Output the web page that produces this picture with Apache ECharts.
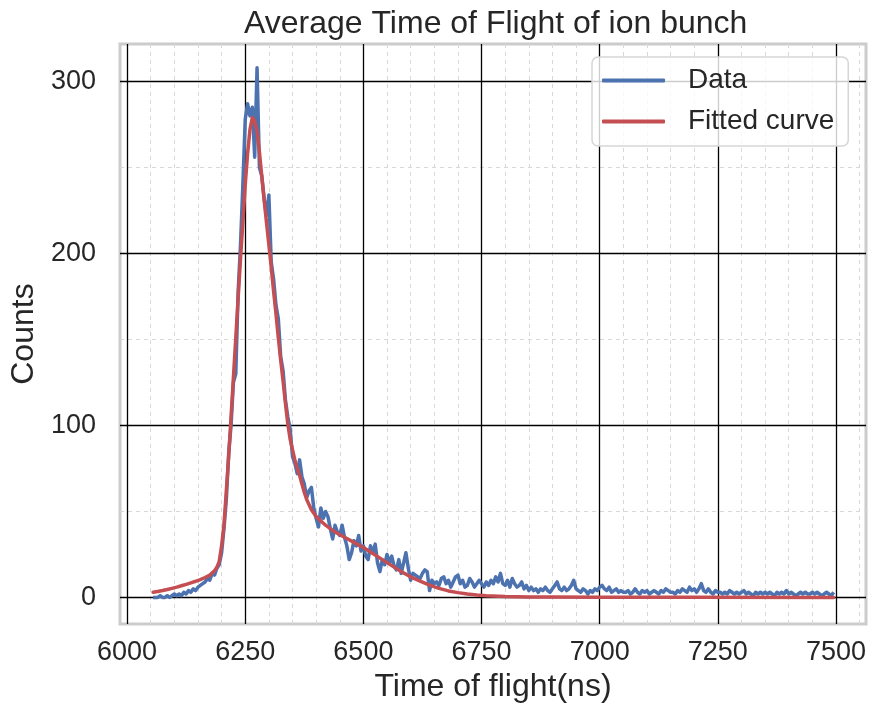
<!DOCTYPE html>
<html>
<head>
<meta charset="utf-8">
<title>Average Time of Flight of ion bunch</title>
<script src="https://cdn.jsdelivr.net/npm/echarts@6/dist/echarts.min.js"></script>
<style>
  html, body { margin: 0; padding: 0; background: #fff; }
  #main { width: 873px; height: 708px; }
</style>
</head>
<body>
<div id="main"></div>
<script>
// measured counts, 5 ns bins starting at 6055 ns
var binStart = 6055
var binWidth = 5
var counts = [
  0, 0, 0, 1, 0, 0, 1, 0, 1, 2, 1, 2, 1, 3, 2, 4, 3, 5, 4, 6,
  7, 8, 9, 11, 10, 14, 13, 17, 19, 26, 40, 57, 84, 100, 125, 130, 178, 205, 240, 278,
  287, 280, 285, 256, 308, 250, 245, 232, 222, 234, 195, 185, 170, 162, 140, 132, 115, 105, 98, 82,
  78, 72, 80, 70, 66, 58, 62, 64, 52, 46, 41, 52, 46, 50, 47, 40, 34, 42, 38, 36,
  42, 35, 30, 22, 26, 33, 30, 36, 27, 30, 24, 22, 30, 26, 31, 20, 15, 22, 19, 25,
  20, 24, 18, 16, 22, 14, 20, 26, 17, 10, 14, 13, 12, 11, 14, 16, 15, 4, 10, 8,
  9, 7, 11, 12, 8, 10, 6, 9, 12, 13, 8, 10, 6, 7, 11, 9, 6, 8, 10, 8,
  6, 9, 7, 10, 8, 12, 9, 14, 8, 7, 10, 6, 11, 8, 6, 7, 9, 5, 7, 4,
  6, 4, 5, 3, 5, 4, 6, 4, 3, 5, 7, 9, 5, 4, 6, 4, 5, 7, 10, 5,
  4, 3, 5, 4, 2, 4, 3, 5, 4, 6, 7, 5, 4, 6, 3, 4, 5, 3, 4, 3,
  3, 4, 2, 3, 5, 3, 2, 4, 3, 4, 2, 3, 4, 3, 2, 4, 3, 5, 4, 3,
  3, 2, 4, 3, 5, 4, 3, 6, 4, 5, 3, 5, 8, 4, 3, 5, 3, 2, 4, 3,
  3, 2, 3, 2, 4, 3, 2, 3, 2, 3, 4, 2, 3, 2, 1, 3, 2, 3, 2, 3,
  2, 3, 2, 1, 3, 2, 3, 2, 4, 2, 3, 2, 1, 2, 3, 2, 3, 2, 2, 3,
  2, 3, 2, 1, 2, 3, 2, 1, 3
]

// fitted curve
var fitX = [
  6055, 6065, 6075, 6085, 6095, 6105, 6115, 6125, 6135, 6145, 6155, 6165, 6175, 6185,
  6190, 6195, 6200, 6205, 6210, 6215, 6220, 6225, 6230, 6235, 6240, 6245, 6250, 6255,
  6260, 6265, 6270, 6275, 6280, 6285, 6290, 6295, 6300, 6305, 6310, 6315, 6320, 6325,
  6330, 6335, 6340, 6345, 6350, 6355, 6360, 6365, 6370, 6375, 6380,
  6390, 6400,
  6420, 6440, 6460, 6480, 6500, 6520, 6540, 6560, 6580, 6600, 6620, 6640, 6660, 6680,
  6700, 6720, 6740, 6760,
  6800, 6850, 6900, 7000, 7200, 7495
]
var fitY = [
  3, 3.5, 4, 4.6, 5.3, 6, 6.8, 7.6, 8.5, 9.4, 10.4, 11.6, 13, 15.5,
  17.5, 21, 30, 42, 62, 82, 105, 128, 151, 174, 197, 218, 240, 258,
  272, 279, 277, 271, 259, 245, 231, 218, 205, 192, 178, 165, 151, 138,
  126, 113, 101, 92, 86, 80, 75, 71, 66, 61, 57,
  51, 47,
  42, 38, 35, 32, 29, 25.5, 22, 18.5, 15, 12, 9.5, 7.2, 5.3, 3.8,
  2.8, 2, 1.4, 1,
  0.5, 0.3, 0.2, 0.1, 0.05, 0
]

var xMajor = [6000, 6250, 6500, 6750, 7000, 7250, 7500]
var xMinor = [6050, 6100, 6150, 6200, 6300, 6350, 6400, 6450, 6550, 6600, 6650, 6700,
  6800, 6850, 6900, 6950, 7050, 7100, 7150, 7200, 7300, 7350, 7400, 7450, 7550]
var yMajor = [0, 100, 200, 300]
var yMinor = [50, 150, 250]

var xRange = [5985, 7563.5]
var yRange = [-15.5, 321.8]

var dataPairs = counts.map(function (c, i) {
  return [binStart + i * binWidth, c]
})
var fitPairs = fitX.map(function (x, i) {
  return [x, fitY[i]]
})

var txt = '#262626'
var fontFam = '"Liberation Sans", Arial, sans-serif'

var myChart = echarts.init(document.getElementById('main'))

var option = {
  animation: false,
  backgroundColor: '#ffffff',
  textStyle: { fontFamily: fontFam },
  title: {
    text: 'Average Time of Flight of ion bunch',
    left: 239,
    top: 3,
    textStyle: { fontSize: 32, fontWeight: 'normal', color: txt, fontFamily: fontFam }
  },
  grid: {
    left: 119,
    top: 44,
    width: 747,
    height: 582,
    show: true,
    borderColor: '#cccccc',
    borderWidth: 3,
    backgroundColor: 'transparent'
  },
  legend: {
    orient: 'vertical',
    left: 592,
    top: 57,
    padding: [8, 14, 9, 10],
    itemWidth: 63,
    itemHeight: 4,
    itemGap: 10,
    icon: 'roundRect',
    backgroundColor: 'rgba(255,255,255,0.8)',
    borderColor: '#d6d6d6',
    borderWidth: 1.5,
    borderRadius: 6,
    textStyle: { fontSize: 28, color: txt, lineHeight: 31, padding: [0, 0, 0, 18], fontFamily: fontFam },
    data: ['Data', 'Fitted curve']
  },
  xAxis: [
    {
      type: 'value',
      min: xRange[0],
      max: xRange[1],
      z: 1,
      name: 'Time of flight(ns)',
      nameLocation: 'middle',
      nameGap: 46,
      nameTextStyle: { fontSize: 32, color: txt, fontFamily: fontFam },
      axisLine: { show: false },
      axisTick: { show: false, customValues: xMajor },
      axisLabel: {
        customValues: xMajor,
        fontSize: 27,
        color: txt,
        margin: 15,
        fontFamily: fontFam,
        formatter: function (v) { return String(v) }
      },
      splitLine: { show: true, lineStyle: { color: '#000000', width: 1.3 } }
    },
    {
      type: 'value',
      min: xRange[0],
      max: xRange[1],
      position: 'bottom',
      z: 0,
      axisLine: { show: false },
      axisTick: { show: false, customValues: xMinor },
      axisLabel: { show: false, customValues: xMinor },
      splitLine: { show: true, lineStyle: { color: '#d8d8d8', width: 1, type: [4, 4] } }
    }
  ],
  yAxis: [
    {
      type: 'value',
      min: yRange[0],
      max: yRange[1],
      z: 1,
      name: 'Counts',
      nameLocation: 'middle',
      nameGap: 80,
      nameTextStyle: { fontSize: 32, color: txt, fontFamily: fontFam },
      axisLine: { show: false },
      axisTick: { show: false, customValues: yMajor },
      axisLabel: { customValues: yMajor, fontSize: 27, color: txt, margin: 24, fontFamily: fontFam },
      splitLine: { show: true, lineStyle: { color: '#000000', width: 1.3 } }
    },
    {
      type: 'value',
      min: yRange[0],
      max: yRange[1],
      position: 'left',
      z: 0,
      axisLine: { show: false },
      axisTick: { show: false, customValues: yMinor },
      axisLabel: { show: false, customValues: yMinor },
      splitLine: { show: true, lineStyle: { color: '#d8d8d8', width: 1, type: [4, 4] } }
    }
  ],
  series: [
    {
      name: 'Data',
      type: 'line',
      xAxisIndex: 0,
      yAxisIndex: 0,
      showSymbol: false,
      color: '#4c72b0',
      lineStyle: { width: 3.5, color: '#4c72b0', join: 'round' },
      data: dataPairs,
      z: 3
    },
    {
      name: 'Fitted curve',
      type: 'line',
      xAxisIndex: 0,
      yAxisIndex: 0,
      showSymbol: false,
      color: '#c44e52',
      lineStyle: { width: 3.5, color: '#c44e52', cap: 'round', join: 'round' },
      data: fitPairs,
      z: 4
    }
  ]
}

myChart.setOption(option)
window.addEventListener('resize', function () {
  myChart.resize()
})
</script>
</body>
</html>
